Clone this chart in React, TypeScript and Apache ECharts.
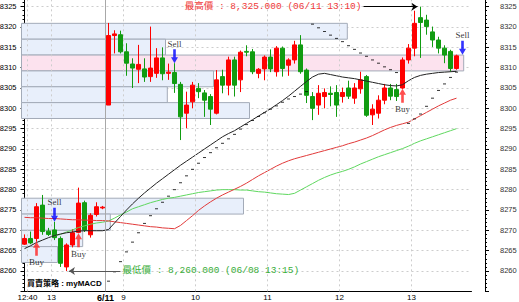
import React, { useEffect, useRef } from 'react';
import * as echarts from 'echarts';

// 5-minute bars, one slot each: 06/08 12:40–13:45 (slots 0–13), 06/11 08:50–13:40 (slots 14–72)
const SLOT_COUNT = 75;
const DAY2_START = 14;

// [open, close, low, high]
const ohlc: number[][] = [
  [8266.6, 8268.0, 8266.4, 8269.0],
  [8268.0, 8266.9, 8266.6, 8269.7],
  [8268.0, 8275.8, 8267.2, 8276.7],
  [8276.2, 8269.7, 8268.9, 8278.7],
  [8269.8, 8269.0, 8268.6, 8270.6],
  [8270.1, 8268.2, 8267.6, 8272.1],
  [8268.0, 8261.9, 8261.0, 8268.5],
  [8261.0, 8266.4, 8260.0, 8266.8],
  [8266.4, 8269.4, 8265.8, 8270.3],
  [8269.5, 8276.7, 8269.3, 8280.5],
  [8276.8, 8270.1, 8269.6, 8277.3],
  [8268.9, 8273.7, 8268.2, 8274.2],
  [8273.9, 8275.8, 8273.4, 8276.9],
  [8275.5, 8275.7, 8275.2, 8276.0],
  [8300.8, 8317.9, 8300.8, 8321.0],
  [8317.9, 8318.3, 8313.5, 8319.2],
  [8318.1, 8313.9, 8313.5, 8319.1],
  [8313.9, 8311.1, 8308.0, 8316.0],
  [8310.9, 8309.9, 8305.0, 8312.3],
  [8309.6, 8310.8, 8306.2, 8315.6],
  [8309.7, 8307.7, 8306.5, 8312.3],
  [8307.8, 8309.9, 8306.5, 8320.1],
  [8308.6, 8312.4, 8307.5, 8314.8],
  [8312.4, 8308.5, 8306.9, 8315.0],
  [8308.6, 8308.9, 8307.0, 8311.0],
  [8308.8, 8306.1, 8303.8, 8311.1],
  [8305.9, 8297.9, 8292.2, 8306.5],
  [8298.8, 8300.8, 8295.1, 8304.1],
  [8301.6, 8305.7, 8300.0, 8306.5],
  [8304.9, 8304.1, 8302.5, 8306.2],
  [8303.8, 8302.0, 8297.9, 8304.5],
  [8302.9, 8299.8, 8295.9, 8303.5],
  [8298.8, 8307.0, 8298.5, 8309.4],
  [8307.8, 8305.7, 8303.7, 8309.5],
  [8305.7, 8311.9, 8303.2, 8312.7],
  [8311.9, 8305.7, 8302.9, 8312.7],
  [8307.0, 8313.8, 8304.0, 8314.2],
  [8314.0, 8313.8, 8312.8, 8315.5],
  [8313.9, 8309.0, 8308.4, 8314.6],
  [8308.6, 8309.6, 8307.4, 8309.9],
  [8309.7, 8312.6, 8306.9, 8313.0],
  [8312.6, 8309.7, 8308.9, 8314.5],
  [8309.0, 8314.8, 8307.8, 8315.3],
  [8314.8, 8309.8, 8307.8, 8315.2],
  [8310.6, 8311.9, 8308.0, 8312.3],
  [8311.9, 8315.6, 8311.0, 8316.6],
  [8315.6, 8309.0, 8308.5, 8318.0],
  [8309.4, 8303.2, 8301.3, 8309.8],
  [8302.9, 8300.0, 8297.1, 8304.0],
  [8300.8, 8303.7, 8298.4, 8305.7],
  [8302.9, 8303.9, 8300.0, 8304.9],
  [8303.7, 8303.4, 8300.5, 8305.4],
  [8303.9, 8300.8, 8297.9, 8305.7],
  [8302.9, 8303.9, 8301.4, 8305.1],
  [8305.0, 8303.0, 8302.3, 8306.8],
  [8302.5, 8305.0, 8301.1, 8306.2],
  [8304.8, 8307.0, 8303.6, 8309.0],
  [8307.8, 8298.3, 8297.9, 8308.2],
  [8298.4, 8299.8, 8295.9, 8301.0],
  [8298.8, 8302.0, 8297.5, 8303.2],
  [8302.0, 8305.0, 8301.0, 8306.0],
  [8305.0, 8303.0, 8302.0, 8306.0],
  [8304.6, 8302.9, 8301.8, 8306.0],
  [8305.0, 8311.9, 8304.8, 8312.5],
  [8311.9, 8314.8, 8311.0, 8315.8],
  [8314.8, 8320.9, 8312.8, 8324.0],
  [8322.3, 8321.1, 8312.4, 8325.0],
  [8321.7, 8320.1, 8318.1, 8323.0],
  [8318.8, 8316.8, 8315.1, 8320.1],
  [8316.8, 8314.8, 8313.5, 8317.6],
  [8314.8, 8313.1, 8311.1, 8315.5],
  [8314.0, 8309.8, 8309.0, 8314.4],
  [8309.8, 8312.9, 8309.5, 8313.2],
];

// moving averages (black = short, red = long, green = longest)
const maShort: (number | null)[] = [
  8265.5, 8266.2, 8267.0, 8267.6, 8268.2, 8268.7, 8269.1, 8269.4, 8269.6, 8269.8, 8269.9, 8269.9, 8269.9, 8269.9,
  8270.2, 8271.8, 8273.4, 8275.0, 8276.5, 8277.9, 8279.2, 8280.4, 8281.6, 8282.7, 8283.8, 8284.9, 8286.0, 8287.0,
  8288.0, 8289.0, 8290.0, 8291.0, 8292.0, 8293.0, 8293.8, 8294.5, 8295.4, 8296.3, 8297.2, 8298.1, 8299.0, 8299.9,
  8300.9, 8301.9, 8303.0, 8304.2, 8305.4, 8306.6, 8307.7, 8308.4, 8308.6, 8308.3, 8308.0, 8307.7, 8307.5, 8307.3,
  8307.0, 8306.7, 8306.4, 8306.1, 8305.8, 8305.6, 8305.5, 8305.8, 8306.8, 8307.6, 8308.1, 8308.4, 8308.6, 8308.8,
  8308.9, 8309.0, 8309.1,
];
const maLong: (number | null)[] = [
  8273.2, 8273.1, 8273.1, 8273.0, 8272.9, 8272.9, 8272.8, 8272.7, 8272.6, 8272.6, 8272.5, 8272.5, 8272.4, 8272.4,
  8272.3, 8272.1, 8271.9, 8271.7, 8271.5, 8271.3, 8271.1, 8270.9, 8270.8, 8270.6, 8270.5, 8270.4, 8271.2, 8272.4,
  8273.6, 8274.9, 8276.0, 8277.0, 8277.9, 8278.7, 8279.4, 8280.1, 8280.8, 8281.6, 8282.5, 8283.4, 8284.2, 8285.0,
  8285.8, 8286.5, 8287.1, 8287.6, 8288.0, 8288.4, 8288.8, 8289.2, 8289.6, 8290.0, 8290.4, 8290.8, 8291.3, 8291.7,
  8292.2, 8292.7, 8293.3, 8294.0, 8294.7, 8295.3, 8295.8, 8296.2, 8296.6, 8297.4, 8298.2, 8299.0, 8299.8, 8300.6,
  8301.3, 8302.0, 8302.5,
];
const maLongest: (number | null)[] = [
  null, null, null, null, null, 8268.6, 8269.0, 8269.6, 8270.1, 8270.7, 8271.1, 8271.5, 8271.8, 8272.0,
  8272.3, 8273.0, 8273.8, 8274.5, 8275.3, 8275.8, 8276.3, 8276.8, 8277.2, 8277.6, 8277.9, 8278.1, 8278.4, 8278.7,
  8279.0, 8279.3, 8279.5, 8279.7, 8279.9, 8280.0, 8280.0, 8280.0, 8279.9, 8279.9, 8279.7, 8279.5, 8279.4, 8279.2,
  8279.0, 8278.9, 8278.8, 8279.1, 8279.9, 8280.7, 8281.5, 8282.3, 8283.0, 8283.6, 8284.1, 8284.5, 8285.0, 8285.6,
  8286.3, 8286.9, 8287.5, 8288.1, 8288.6, 8289.1, 8289.6, 8290.1, 8290.7, 8291.4, 8292.0, 8292.5, 8293.0, 8293.5,
  8294.0, 8294.5, 8295.0,
];

// parabolic SAR
const sar: (number | null)[] = [
  null, null, null, null, null, null, null, null, null, null, null, null, null, null,
  8257.5, 8259.8, 8262.3, 8264.7, 8267.1, 8269.4, 8271.7, 8273.6, 8275.3, 8276.9, 8278.4, 8280.0, 8281.7, 8283.4,
  8285.0, 8286.5, 8287.9, 8289.1, 8290.3, 8291.4, 8292.5, 8293.6, 8294.9, 8296.0, 8297.0, 8298.0, 8298.9, 8299.8,
  8300.6, 8301.5, 8302.3, 8302.9, 8303.5, 8304.1,
  8320.7, 8319.8, 8318.9, 8318.0, 8317.2, 8316.4, 8315.4, 8314.5, 8313.6, 8312.8, 8311.9, 8311.1, 8310.2, 8309.5,
  8308.8, null,
  8296.3, 8297.4, 8298.6, 8300.5, 8302.5, 8304.4, 8306.0, 8307.6, 8308.9,
];

// strategy signals: [slot, price]
const buySignals: number[][] = [[2, 8267.2], [9, 8269.3], [63, 8304.8]];
const sellSignals: number[][] = [[5, 8272.1], [25, 8311.1], [73, 8313.2]];

// price zones (low, high, last slot reached); the middle upper zone is the active one
const zoneLow = [8317.0, 8313.1, 8309.2, 8305.3, 8301.4, 8297.5, 8274.0, 8270.0, 8266.0, 8262.1];
const zoneHigh = [8320.9, 8317.0, 8313.1, 8309.2, 8305.3, 8301.4, 8277.9, 8274.0, 8270.0, 8266.0];
const zoneEnd = [53.8, 23.5, 73.2, 31.5, 23.8, 37.5, 36.5, 14.3, 9.7, 5.5];
const zoneActive = [false, false, true, false, false, false, false, false, false, false];

// time axis marks (slot boundaries) and their labels
const timeTickSlots = [0.5, 4.5, 13.5, 16.5, 28.5, 40.5, 52.5, 64.5];
const timeTickLabels = ['12:40', '13', '6/11', '9', '10', '11', '12', '13'];

const PRICE_MIN = 8255;
const PRICE_MAX = 8330;
const PRICE_STEP = 5;
const strategyName = '買賣策略 : myMACD';

const RED = '#ff0000';
const GREEN = '#119c11';
const MONO_CJK = "'Liberation Mono', 'Noto Sans CJK TC', monospace";

function barTime(i: number): string {
  const day = i < DAY2_START ? '06/08' : '06/11';
  const mins = i < DAY2_START ? 12 * 60 + 40 + 5 * i : 8 * 60 + 50 + 5 * (i - DAY2_START);
  const hh = String(Math.floor(mins / 60)).padStart(2, '0');
  const mm = String(mins % 60).padStart(2, '0');
  return `${day} ${hh}:${mm}`;
}

function fmtPrice(v: number): string {
  return v.toLocaleString('en-US', { minimumFractionDigits: 3, maximumFractionDigits: 3 });
}

function buildOption(): echarts.EChartsOption {
  let hiIdx = 0;
  let loIdx = 0;
  ohlc.forEach((d, i) => {
    if (d[3] > ohlc[hiIdx][3]) hiIdx = i;
    if (d[2] < ohlc[loIdx][2]) loIdx = i;
  });
  const hi = ohlc[hiIdx][3];
  const lo = ohlc[loIdx][2];

  const categories = Array.from({ length: SLOT_COUNT }, (_, i) => String(i));
  const pairs = (arr: (number | null)[]) =>
    arr.map((v, i) => (v == null ? null : [i, v])).filter((p) => p !== null) as number[][];

  const tickLabel: Record<string, string> = {};
  timeTickSlots.forEach((s, i) => (tickLabel[s.toFixed(1)] = timeTickLabels[i]));

  const priceLabel = (v: number) =>
    v >= PRICE_MIN + PRICE_STEP && v <= PRICE_MAX - PRICE_STEP && v % PRICE_STEP === 0 ? String(v) : '';

  const yAxisBase = {
    type: 'value' as const,
    min: PRICE_MIN,
    max: PRICE_MAX,
    interval: PRICE_STEP,
    scale: true,
    axisLine: { show: true, lineStyle: { color: '#000', width: 1 } },
    axisTick: { show: true, length: 4, lineStyle: { color: '#000' } },
    minorTick: { show: true, splitNumber: 5, length: 2, lineStyle: { color: '#000' } },
    minorSplitLine: { show: false },
  };

  return {
    animation: false,
    backgroundColor: '#ffffff',
    grid: {
      left: 21.5,
      right: 47.5,
      top: -13.67,
      bottom: 10.67,
      containLabel: false,
      outerBoundsMode: 'none',
    } as any,
    xAxis: [
      {
        type: 'category',
        data: categories,
        boundaryGap: true,
        show: false,
      },
      {
        type: 'value',
        min: -0.5,
        max: SLOT_COUNT - 0.5,
        interval: 0.5,
        position: 'bottom',
        axisLine: { show: true, onZero: false, lineStyle: { color: '#000', width: 1 } },
        axisTick: { show: false },
        splitLine: { show: false },
        axisLabel: {
          show: true,
          customValues: timeTickSlots,
          margin: 2,
          fontSize: 8,
          color: '#000',
          fontFamily: 'Liberation Sans',
          formatter: (v: number) => {
            const t = tickLabel[Number(v).toFixed(1)];
            if (!t) return '';
            return t.includes('/') ? `{d|${t}}` : t;
          },
          rich: {
            d: { fontSize: 9, fontWeight: 'bold', color: '#000', fontFamily: 'Liberation Sans' },
          },
        },
      } as any,
    ],
    yAxis: [
      {
        ...yAxisBase,
        position: 'left',
        axisLabel: {
          margin: 5,
          fontSize: 7.5,
          color: '#000',
          fontFamily: 'Liberation Sans',
          formatter: priceLabel,
        },
        splitLine: { show: true, lineStyle: { color: '#cdcdcd', type: [2, 3], width: 1 } },
      },
      {
        ...yAxisBase,
        position: 'right',
        offset: 13.5,
        axisLabel: {
          margin: 15,
          fontSize: 7.5,
          color: '#333',
          fontFamily: 'Liberation Sans',
          formatter: priceLabel,
        },
        splitLine: { show: false },
      },
    ] as any,
    graphic: [
      {
        type: 'text',
        left: 27,
        top: 279,
        silent: true,
        style: {
          text: strategyName,
          fill: '#000',
          fontSize: 8,
          fontWeight: 'bold',
          fontFamily: "'Liberation Sans', 'Noto Sans CJK TC'",
        },
      },
    ],
    series: [
      // vertical time grid
      {
        type: 'line',
        xAxisIndex: 1,
        yAxisIndex: 0,
        data: [],
        z: 0,
        silent: true,
        markLine: {
          silent: true,
          animation: false,
          symbol: ['none', 'none'],
          label: { show: false },
          data: timeTickSlots.map((s, i) => ({
            xAxis: s,
            lineStyle: timeTickLabels[i].includes('/')
              ? { color: '#a8a8a8', type: 'solid', width: 1 }
              : { color: '#cdcdcd', type: [2, 3], width: 1 },
          })),
        },
      } as any,
      // price zones
      {
        type: 'line',
        xAxisIndex: 1,
        yAxisIndex: 0,
        data: [],
        z: 1,
        silent: true,
        markArea: {
          silent: true,
          animation: false,
          label: { show: false },
          data: zoneLow.map((l, i) => [
            {
              xAxis: -0.5,
              yAxis: l,
              itemStyle: {
                color: zoneActive[i] ? '#fce2ee' : '#e8effb',
                borderColor: '#a3abb8',
                borderWidth: 1,
              },
            },
            { xAxis: zoneEnd[i], yAxis: zoneHigh[i] },
          ]),
        },
      } as any,
      {
        type: 'candlestick',
        xAxisIndex: 0,
        yAxisIndex: 0,
        z: 2,
        barWidth: 5,
        data: ohlc,
        itemStyle: {
          color: RED,
          color0: GREEN,
          borderColor: RED,
          borderColor0: GREEN,
          borderWidth: 1,
        },
      },
      {
        type: 'line',
        xAxisIndex: 0,
        yAxisIndex: 0,
        z: 3,
        data: maLongest,
        symbol: 'none',
        connectNulls: false,
        lineStyle: { color: '#5fd85f', width: 1 },
      },
      {
        type: 'line',
        xAxisIndex: 0,
        yAxisIndex: 0,
        z: 3,
        data: maLong,
        symbol: 'none',
        lineStyle: { color: '#e23a3a', width: 1 },
      },
      {
        type: 'line',
        xAxisIndex: 0,
        yAxisIndex: 0,
        z: 3,
        data: maShort,
        symbol: 'none',
        lineStyle: { color: '#222', width: 1 },
      },
      {
        type: 'scatter',
        xAxisIndex: 0,
        yAxisIndex: 0,
        z: 4,
        data: pairs(sar),
        symbol: 'rect',
        symbolSize: [3, 1],
        itemStyle: { color: '#000' },
      },
      {
        type: 'scatter',
        xAxisIndex: 1,
        yAxisIndex: 0,
        z: 5,
        data: buySignals,
        symbol: 'path://M4,0 L8,6 L5.5,6 L5.5,14 L2.5,14 L2.5,6 L0,6 Z',
        symbolSize: [7, 14],
        symbolOffset: [0, 7],
        itemStyle: { color: '#ff2222' },
        label: {
          show: true,
          position: 'bottom',
          distance: 2,
          formatter: 'Buy',
          fontSize: 9,
          color: '#000',
          fontFamily: 'Liberation Serif',
        },
      },
      {
        type: 'scatter',
        xAxisIndex: 1,
        yAxisIndex: 0,
        z: 5,
        data: sellSignals,
        symbol: 'path://M2.5,0 L5.5,0 L5.5,8 L8,8 L4,14 L0,8 L2.5,8 Z',
        symbolSize: [7, 14],
        symbolOffset: [0, -7],
        itemStyle: { color: '#0000ff' },
        label: {
          show: true,
          position: 'top',
          distance: 1,
          formatter: 'Sell',
          fontSize: 9,
          color: '#000',
          fontFamily: 'Liberation Serif',
        },
      },
      // highest price annotation
      {
        type: 'line',
        xAxisIndex: 1,
        yAxisIndex: 0,
        data: [],
        z: 6,
        silent: true,
        markLine: {
          silent: true,
          animation: false,
          symbol: ['none', 'arrow'],
          symbolSize: 6,
          lineStyle: { color: '#000', width: 1, type: 'solid' },
          label: {
            show: true,
            position: 'start',
            distance: 2,
            color: '#f03a3a',
            fontSize: 9.5,
            fontFamily: MONO_CJK,
            formatter: `最高價 : ${fmtPrice(hi)} (${barTime(hiIdx)})`,
          },
          data: [[{ coord: [hiIdx - 9.5, hi] }, { coord: [hiIdx - 0.5, hi] }]],
        },
      } as any,
      // lowest price annotation
      {
        type: 'line',
        xAxisIndex: 1,
        yAxisIndex: 0,
        data: [],
        z: 6,
        silent: true,
        markLine: {
          silent: true,
          animation: false,
          symbol: ['arrow', 'none'],
          symbolSize: 6,
          lineStyle: { color: '#555', width: 1, type: 'solid' },
          label: {
            show: true,
            position: 'end',
            distance: 2,
            color: '#3aae3a',
            fontSize: 9.5,
            fontFamily: MONO_CJK,
            formatter: `最低價 : ${fmtPrice(lo)} (${barTime(loIdx)})`,
          },
          data: [[{ coord: [loIdx + 0.4, lo] }, { coord: [loIdx + 9, lo] }]],
        },
      } as any,
    ],
  };
}

export default function App() {
  const ref = useRef<HTMLDivElement>(null);
  useEffect(() => {
    if (!ref.current) return;
    const chart = echarts.init(ref.current, undefined, { renderer: 'svg' });
    chart.setOption(buildOption());
    return () => chart.dispose();
  }, []);
  return (
    <div
      ref={ref}
      style={{ position: 'fixed', left: 0, top: 0, width: 519, height: 302, background: '#fff' }}
    />
  );
}
